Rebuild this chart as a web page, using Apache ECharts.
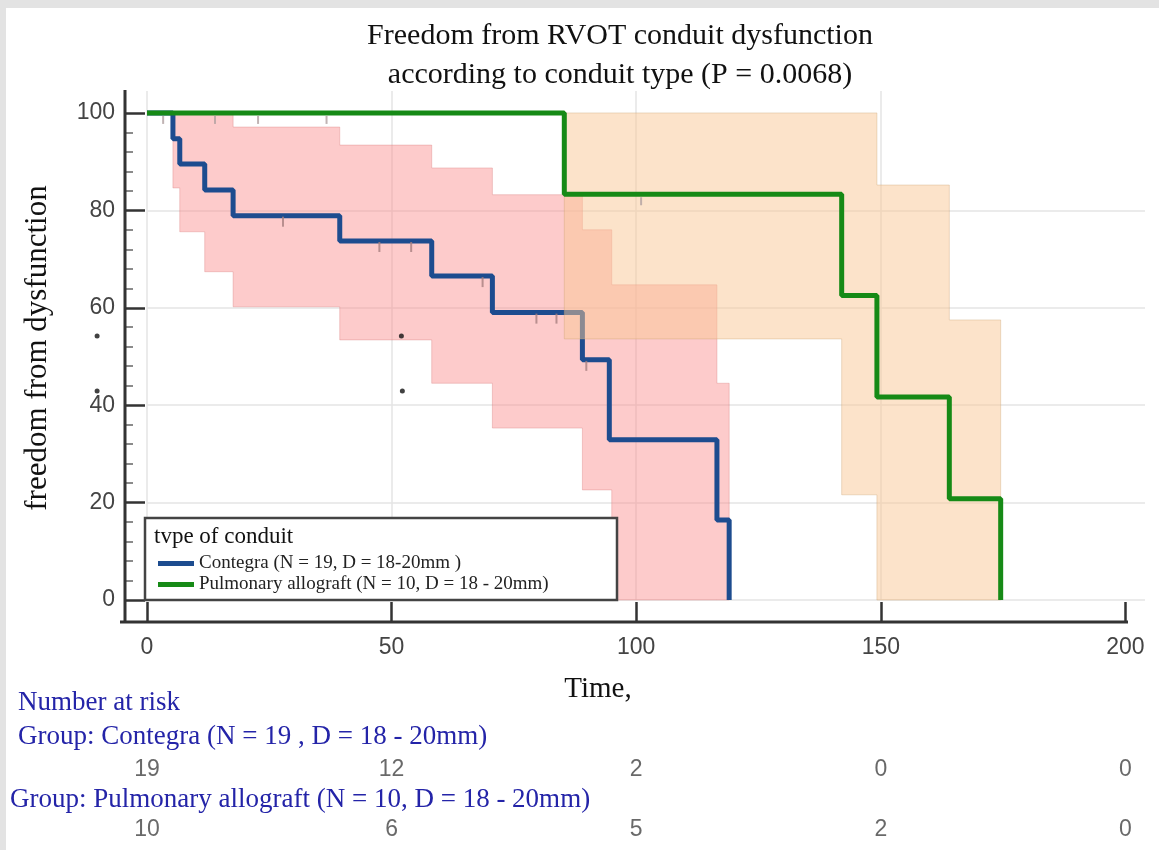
<!DOCTYPE html>
<html>
<head>
<meta charset="utf-8">
<script src="https://cdn.jsdelivr.net/npm/echarts@6/dist/echarts.min.js"></script>
<style>
    html, body { margin: 0; padding: 0; background: #fff; }
    #main { width: 1159px; height: 850px; }
</style>
</head>
<body>
<div id="main"></div>
<script>
// Kaplan-Meier steps [time, freedom %]
const contegraCurve = [[0, 100], [5.3, 94.7], [6.7, 89.5], [11.8, 84.2], [17.6, 78.9], [39.4, 73.7],
    [58.2, 66.5], [70.6, 59], [89, 49.3], [94.5, 32.9], [116.5, 16.4], [119, 0]];
const allograftCurve = [[0, 100], [85.3, 83.3], [142, 62.5], [149.2, 41.7], [164, 20.8], [174.5, 0]];

// 95% CI bands: step edges, upper and lower bound for each step
const contegraBandX = [5.3, 6.7, 11.8, 17.6, 39.4, 58.2, 70.6, 89, 95, 116.5, 119];
const contegraBandUpper = [100, 100, 100, 97.1, 93.4, 88.7, 83.2, 76, 64.7, 44.5];
const contegraBandLower = [84.6, 75.6, 67.4, 60.2, 53.4, 44.5, 35.3, 22.6, 0, 0];
const allograftBandX = [85.3, 142, 149.2, 164, 174.5];
const allograftBandUpper = [100, 100, 85.2, 57.5];
const allograftBandLower = [53.6, 21.6, 0, 0];

// censored observations
const contegraCensored = [[27.8, 78.9], [47.5, 73.7], [54, 73.7], [68.6, 66.5], [79.6, 59], [83.7, 59], [89.8, 49.3]];
const allograftCensored = [[3.3, 100], [13.9, 100], [22.7, 100], [36.7, 100], [101, 83.3]];
const strayDots = [[52, 54.2], [52.2, 42.9], [-10.2, 54.2], [-10.2, 42.9]];

// number at risk
const riskTimes = [0, 50, 100, 150, 200];
const contegraAtRisk = [19, 12, 2, 0, 0];
const allograftAtRisk = [10, 6, 5, 2, 0];

const xTicks = [0, 50, 100, 150, 200];
const yTicks = [0, 20, 40, 60, 80, 100];
const yMinorTicks = [4, 8, 12, 16, 24, 28, 32, 36, 44, 48, 52, 56, 64, 68, 72, 76, 84, 88, 92, 96];

const contegraName = 'Contegra (N = 19, D = 18-20mm )';
const allograftName = 'Pulmonary allograft (N = 10, D = 18 - 20mm)';

const SERIF = '"Liberation Serif", "DejaVu Serif", serif';
const SANS = '"Liberation Sans", Arial, sans-serif';
const BLUE = '#1d4c8f';
const GREEN = '#168a16';
const TEXT_BLUE = '#2424a8';

const bandRender = (xs, upper, lower, fill, stroke) => (params, api) => {
    if (params.dataIndex !== 0) return;
    const pts = [];
    for (let i = 0; i < upper.length; i++) {
        pts.push(api.coord([xs[i], upper[i]]));
        pts.push(api.coord([xs[i + 1], upper[i]]));
    }
    for (let i = lower.length - 1; i >= 0; i--) {
        pts.push(api.coord([xs[i + 1], lower[i]]));
        pts.push(api.coord([xs[i], lower[i]]));
    }
    return {
        type: 'polygon',
        shape: { points: pts },
        style: { fill, stroke, lineWidth: 1 },
    };
};

const riskSeries = (counts, idx) => ({
    type: 'scatter',
    xAxisIndex: idx,
    yAxisIndex: idx,
    symbolSize: 1,
    silent: true,
    itemStyle: { color: 'rgba(0,0,0,0)' },
    data: riskTimes.map((t, i) => [t, 0.5, counts[i]]),
    label: {
        show: true,
        position: 'inside',
        formatter: (p) => String(p.value[2]),
        fontFamily: SANS,
        fontSize: 23,
        color: '#444',
    },
});

const text = (x, y, str, size, color, align, extra) => Object.assign({
    type: 'text',
    x,
    y,
    z: 50,
    style: {
        text: str,
        font: size + 'px ' + SERIF,
        fill: color,
        textAlign: align || 'left',
        textVerticalAlign: 'middle',
    },
}, extra || {});

const myChart = echarts.init(document.getElementById('main'));

const option = {
    backgroundColor: '#fff',
    animation: false,
    grid: [
        { left: 147, right: 14, top: 91, bottom: 250 },
        { left: 147, right: 14, top: 760, height: 20 },
        { left: 147, right: 14, top: 820, height: 20 },
    ],
    xAxis: [
        {
            type: 'value',
            min: 0,
            max: 204,
            interval: 50,
            offset: 22,
            axisLine: { show: false, onZero: false },
            axisTick: { inside: true, length: 20, customValues: xTicks, lineStyle: { color: '#333', width: 2.5 } },
            axisLabel: { customValues: xTicks, margin: 14, fontFamily: SANS, fontSize: 23, color: '#444' },
            splitLine: { show: true, showMaxLine: false, lineStyle: { color: '#e4e4e4', width: 1.5 } },
        },
        { type: 'value', gridIndex: 1, min: 0, max: 204, show: false },
        { type: 'value', gridIndex: 2, min: 0, max: 204, show: false },
    ],
    yAxis: [
        {
            type: 'value',
            position: 'left',
            min: 0,
            max: 104.5,
            interval: 20,
            offset: 22,
            axisLine: { show: false, onZero: false },
            axisTick: { inside: true, length: 20, customValues: yTicks, lineStyle: { color: '#333', width: 2.5 } },
            axisLabel: { customValues: yTicks, margin: 10, fontFamily: SANS, fontSize: 23, color: '#444' },
            splitLine: { show: true, showMaxLine: false, lineStyle: { color: '#e4e4e4', width: 1.5 } },
        },
        { type: 'value', gridIndex: 1, min: 0, max: 1, show: false },
        { type: 'value', gridIndex: 2, min: 0, max: 1, show: false },
        {
            type: 'value',
            position: 'left',
            min: 0,
            max: 104.5,
            offset: 22,
            axisLine: { show: false, onZero: false },
            axisTick: { inside: true, length: 8, customValues: yMinorTicks, lineStyle: { color: '#666', width: 1.5 } },
            axisLabel: { show: false },
            splitLine: { show: false },
        },
    ],
    legend: {
        data: [contegraName, allograftName],
        orient: 'vertical',
        left: 153,
        top: 549,
        itemWidth: 36,
        itemHeight: 5,
        itemGap: 2,
        icon: 'rect',
        z: 60,
        textStyle: { fontFamily: SERIF, fontSize: 19, color: '#222' },
    },
    series: [
        {
            type: 'custom',
            coordinateSystem: 'cartesian2d',
            z: 1,
            silent: true,
            data: contegraBandUpper.map((u, i) => [contegraBandX[i], u, contegraBandLower[i]]),
            renderItem: bandRender(contegraBandX, contegraBandUpper, contegraBandLower,
                'rgba(250,140,140,0.45)', 'rgba(215,120,120,0.35)'),
        },
        {
            name: contegraName,
            type: 'line',
            step: 'end',
            z: 2,
            showSymbol: false,
            color: BLUE,
            lineStyle: { color: BLUE, width: 5 },
            data: contegraCurve,
        },
        {
            type: 'scatter',
            z: 2,
            symbol: 'rect',
            symbolSize: [2, 10],
            symbolOffset: [0, 6],
            itemStyle: { color: '#a88080' },
            data: contegraCensored,
        },
        {
            type: 'custom',
            coordinateSystem: 'cartesian2d',
            z: 3,
            silent: true,
            data: allograftBandUpper.map((u, i) => [allograftBandX[i], u, allograftBandLower[i]]),
            renderItem: bandRender(allograftBandX, allograftBandUpper, allograftBandLower,
                'rgba(250,200,150,0.5)', 'rgba(200,160,110,0.35)'),
        },
        {
            name: allograftName,
            type: 'line',
            step: 'end',
            z: 4,
            showSymbol: false,
            color: GREEN,
            lineStyle: { color: GREEN, width: 5 },
            data: allograftCurve,
        },
        {
            type: 'scatter',
            z: 4,
            symbol: 'rect',
            symbolSize: [2, 8],
            symbolOffset: [0, 7],
            itemStyle: { color: '#b0a0a0' },
            data: allograftCensored,
        },
        {
            type: 'scatter',
            z: 5,
            symbolSize: 5,
            clip: false,
            itemStyle: { color: '#111' },
            data: strayDots,
        },
        riskSeries(contegraAtRisk, 1),
        riskSeries(allograftAtRisk, 2),
    ],
    graphic: [
        // grey frame of the screenshot
        { type: 'rect', shape: { x: 0, y: 0, width: 1159, height: 8 }, style: { fill: '#e3e3e3' }, z: 0 },
        { type: 'rect', shape: { x: 0, y: 0, width: 6, height: 850 }, style: { fill: '#e3e3e3' }, z: 0 },
        // axis lines
        { type: 'line', shape: { x1: 125, y1: 90, x2: 125, y2: 623 }, style: { stroke: '#333', lineWidth: 3 }, z: 20 },
        { type: 'line', shape: { x1: 120, y1: 622, x2: 1128, y2: 622 }, style: { stroke: '#333', lineWidth: 3 }, z: 20 },
        // legend box
        { type: 'rect', shape: { x: 145, y: 518, width: 472, height: 82 }, style: { fill: '#fff', stroke: '#444', lineWidth: 2.5 }, z: 40 },
        text(154, 537, 'tvpe of conduit', 23, '#111'),
        // titles
        text(620, 36, 'Freedom from RVOT conduit dysfunction', 30, '#111', 'center'),
        text(620, 75, 'according to conduit type (P = 0.0068)', 30, '#111', 'center'),
        text(38, 348, 'freedom from dysfunction', 31, '#111', 'center', { rotation: Math.PI / 2 }),
        text(598, 689, 'Time,', 29, '#111', 'center'),
        // number at risk
        text(18, 703, 'Number at risk', 27, TEXT_BLUE),
        text(18, 737, 'Group: Contegra (N = 19 , D = 18 - 20mm)', 27, TEXT_BLUE),
        text(10, 800, 'Group: Pulmonary allograft (N = 10, D = 18 - 20mm)', 27, TEXT_BLUE),
    ],
};

myChart.setOption(option);
window.onresize = myChart.resize;
</script>
</body>
</html>
